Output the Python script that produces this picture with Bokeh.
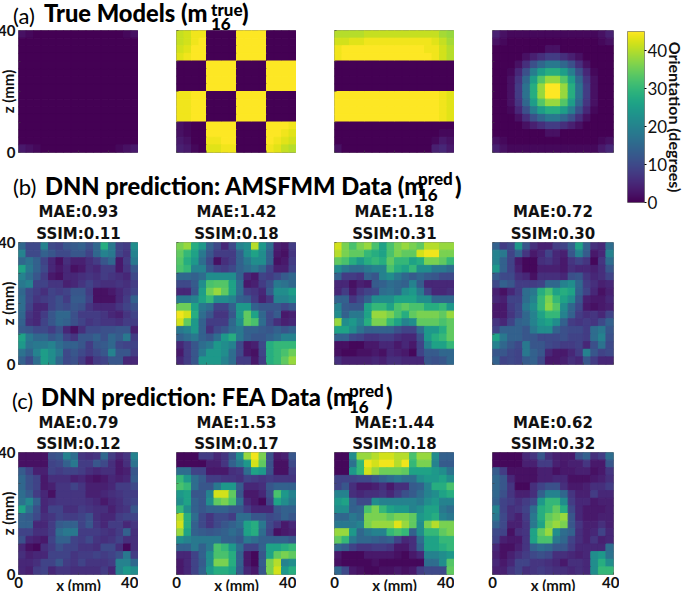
import numpy as np
from bokeh.embed import file_html
from bokeh.resources import INLINE
from bokeh.layouts import column, row
from bokeh.models import ColumnDataSource, Div, FixedTicker, LinearColorMapper, LinearAxis, Range1d, Title
from bokeh.palettes import Viridis256
from bokeh.plotting import figure

A1 = [[2,1,0,0,0,0,0,0,0,0,0,0,0,0,1,2]] + [[0]*16 for _ in range(14)] + [[3,2,1,0,0,0,0,0,0,0,0,0,0,1,2,3]]
A2 = [
[41,42,44,44,0,0,0,0,45,45,45,45,0,0,0,0],
[41,42,44,45,0,0,0,0,45,45,45,45,0,0,0,0],
[42,43,45,45,0,0,0,0,45,45,45,45,0,0,0,0],
[43,44,45,45,0,0,0,0,45,45,45,45,0,0,0,0],
[0,0,0,0,45,45,45,45,0,0,0,0,45,45,45,45],
[0,0,0,0,45,45,45,45,0,0,0,0,45,45,45,45],
[0,0,0,0,45,45,45,45,0,0,0,0,45,45,45,45],
[0,0,0,0,45,45,45,45,0,0,0,0,45,45,45,45],
[44,44,45,45,0,0,0,0,45,45,45,45,0,0,0,0],
[44,44,45,45,0,0,0,0,45,45,45,45,0,0,0,0],
[44,44,45,45,0,0,0,0,45,45,45,45,0,0,0,0],
[44,44,45,45,0,0,0,0,45,45,45,45,0,0,0,0],
[2,1,0,0,45,45,45,45,0,0,0,0,45,45,45,44],
[2,1,0,0,45,45,45,45,0,0,0,0,45,45,44,43],
[3,2,0,0,44,44,45,45,0,0,0,0,45,44,43,42],
[4,3,1,0,43,43,44,44,0,0,0,0,44,43,41,40],
]
A3 = [
[40,40,40,40,41,41,41,41,41,41,41,41,41,41,39,38],
[42,42,43,43,44,44,44,44,44,44,44,44,44,43,41,39],
[44,45,45,45,45,45,45,45,45,45,45,45,44,44,42,40],
[44,45,45,45,45,45,45,45,45,45,45,45,45,44,42,40],
[0,0,0,0,0,0,0,0,0,0,0,0,0,0,0,0],
[0,0,0,0,0,0,0,0,0,0,0,0,0,0,0,0],
[0,0,0,0,0,0,0,0,0,0,0,0,0,0,0,0],
[0,0,0,0,0,0,0,0,0,0,0,0,0,0,0,0],
[45,45,45,45,45,45,45,45,45,45,45,45,45,45,44,43],
[45,45,45,45,45,45,45,45,45,45,45,45,45,45,44,43],
[45,45,45,45,45,45,45,45,45,45,45,45,45,45,44,43],
[45,45,45,45,45,45,45,45,45,45,45,45,45,45,44,43],
[0,0,0,0,0,0,0,0,0,0,0,0,0,0,0,0],
[0,0,0,0,0,0,0,0,0,0,0,0,0,0,1,1],
[0,0,0,0,0,0,0,0,0,0,0,0,0,1,3,2],
[2,0,0,0,0,0,0,0,0,0,0,0,0,4,5,3],
]
A4 = [
[4,2,1,1,1,1,1,1,1,1,1,1,1,1,2,4],
[2,1,0,0,0,0,0,0,0,0,0,0,0,0,1,2],
[0,0,0,0,0,0,0,2,2,0,0,0,0,0,0,0],
[0,0,0,0,2,4,6,8,8,6,4,2,0,0,0,0],
[0,0,0,2,6,11,15,18,18,15,11,6,2,0,0,0],
[0,0,1,5,11,19,25,28,28,25,19,11,5,1,0,0],
[0,0,2,7,15,25,33,38,38,33,25,15,7,2,0,0],
[0,0,2,8,17,28,38,45,45,38,28,17,8,2,0,0],
[0,0,2,8,17,28,38,45,45,38,28,17,8,2,0,0],
[0,0,2,7,15,25,33,38,38,33,25,15,7,2,0,0],
[0,0,1,5,11,19,25,28,28,25,19,11,5,1,0,0],
[0,0,0,2,6,11,15,18,18,15,11,6,2,0,0,0],
[0,0,0,0,2,4,6,8,8,6,4,2,0,0,0,0],
[0,0,0,0,0,0,0,2,2,0,0,0,0,0,0,0],
[2,1,0,0,0,0,0,0,0,0,0,0,0,0,1,2],
[4,2,1,1,1,1,1,1,1,1,1,1,1,1,3,5],
]
B1 = [
[15,10,10,20,10,9,12,13,14,11,15,28,18,9,8,22],
[20,10,10,14,12,10,10,12,12,9,15,20,18,9,7,20],
[15,17,14,9,5,2,6,4,4,6,8,12,15,3,8,18],
[26,18,14,10,5,3,5,2,3,6,5,8,8,3,7,12],
[20,16,12,8,3,2,5,5,6,7,6,8,7,6,5,10],
[18,20,9,9,7,7,4,5,7,9,7,6,6,7,6,8],
[15,10,8,6,9,8,9,12,12,8,2,2,3,5,7,9],
[16,10,7,8,9,11,8,13,13,9,2,2,2,5,8,14],
[16,9,5,5,9,11,10,12,11,7,5,5,5,7,9,11],
[15,7,5,8,12,15,15,11,8,8,8,7,5,4,7,9],
[14,6,5,9,12,15,14,11,9,7,8,7,7,6,8,8],
[13,12,10,10,8,11,5,2,6,10,10,11,11,12,12,4],
[26,18,15,15,12,14,9,7,12,12,14,11,15,13,18,8],
[24,17,18,18,20,16,14,14,12,8,12,13,15,10,9,9],
[17,14,20,25,22,18,10,12,10,8,10,12,20,12,12,8],
[14,10,16,25,22,15,10,11,8,4,8,9,12,12,5,5],
]
B2 = [
[36,38,28,24,14,10,5,10,20,22,40,24,16,4,3,8],
[34,30,26,18,12,8,8,8,14,22,26,22,14,3,2,7],
[33,28,24,16,10,2,6,8,14,18,22,22,14,2,3,8],
[32,30,20,20,12,9,8,10,14,16,18,15,9,4,4,9],
[15,15,14,16,22,22,22,22,14,5,3,9,8,10,13,15],
[10,10,13,22,32,33,33,26,16,3,4,8,11,18,17,15],
[5,5,12,25,35,38,34,26,16,8,7,5,13,22,22,25],
[18,18,20,26,30,22,22,20,14,13,8,4,7,20,20,22],
[35,35,26,18,16,9,9,14,24,24,14,12,12,12,10,12],
[44,42,28,16,12,7,7,12,24,34,26,15,10,13,3,4],
[42,34,24,14,8,8,8,15,22,34,32,16,10,6,4,5],
[18,20,24,14,6,10,12,16,18,14,14,13,12,14,12,14],
[14,16,18,14,12,16,24,28,18,14,12,12,14,16,20,20],
[5,8,12,16,18,24,22,20,10,3,4,10,28,30,30,30],
[3,8,12,18,24,24,22,16,10,3,2,9,28,30,32,35],
[5,8,12,24,24,24,20,16,8,8,3,8,28,30,34,38],
]
B3 = [
[42,36,32,36,38,32,26,32,36,38,36,34,40,40,38,38],
[40,36,34,34,30,28,26,32,36,34,34,42,44,44,36,36],
[34,32,28,24,28,30,28,34,30,30,26,28,36,36,34,30],
[22,18,16,16,18,20,20,32,28,26,30,22,22,18,18,16],
[14,8,8,7,14,12,20,22,18,15,13,15,13,12,10,10],
[5,5,2,4,3,13,14,16,15,14,20,13,5,5,5,5],
[5,8,3,7,9,10,16,17,15,22,24,18,9,5,5,6],
[14,14,7,10,14,22,22,22,26,26,26,22,22,15,15,15],
[20,13,12,12,26,30,30,26,32,34,32,32,28,28,30,24],
[22,14,18,18,26,38,38,36,32,28,34,36,36,36,34,38],
[38,22,24,20,28,36,36,30,26,20,22,34,34,34,32,34],
[26,26,22,17,14,14,14,14,11,9,9,16,24,24,28,34],
[14,14,10,9,7,7,8,8,6,5,5,11,24,28,30,34],
[2,2,1,1,3,3,5,5,3,5,3,9,20,26,26,30],
[2,1,1,2,2,3,2,5,4,3,1,9,13,13,15,15],
[6,4,4,4,4,5,4,6,6,5,5,5,12,11,12,15],
]
B4 = [
[14,8,10,24,12,6,4,4,8,9,14,26,14,6,5,16],
[20,18,9,14,7,3,5,9,5,4,12,20,13,3,5,20],
[20,14,9,3,1,1,6,7,5,3,7,9,7,1,7,16],
[24,14,9,4,1,1,4,4,4,3,6,5,5,4,6,12],
[13,10,10,6,5,2,6,6,6,5,11,12,7,5,6,9],
[10,14,12,8,8,8,9,15,15,20,22,15,8,6,4,5],
[4,2,5,8,16,18,28,32,26,28,26,14,9,5,2,4],
[5,4,9,9,16,20,30,36,30,26,22,12,4,3,3,5],
[3,3,8,10,18,22,30,37,33,22,15,10,3,2,3,4],
[3,3,7,10,15,20,26,30,30,20,14,8,6,7,5,9],
[7,5,9,14,15,20,24,26,22,14,8,7,8,7,10,14],
[9,14,14,14,12,18,22,22,14,11,10,10,8,16,18,12],
[26,18,14,14,12,12,10,10,10,11,9,9,8,16,20,11],
[20,15,12,10,18,12,12,10,9,8,8,9,5,11,17,10],
[12,12,10,9,18,14,12,5,3,3,5,8,20,12,9,10],
[14,9,10,9,13,14,10,3,3,4,6,5,12,8,5,5],
]
C1 = [
[2,2,2,2,11,12,20,16,7,6,7,15,8,5,7,20],
[2,2,2,2,9,10,14,18,8,8,12,10,6,3,6,17],
[13,9,4,4,9,8,9,9,8,6,5,6,6,3,4,12],
[15,11,9,3,6,6,6,4,5,3,2,3,5,4,5,13],
[15,11,9,3,4,7,7,9,7,4,4,4,5,8,8,10],
[16,13,8,5,2,7,7,7,7,4,4,5,6,7,8,8],
[17,21,14,5,6,7,7,7,7,6,5,3,5,6,8,9],
[26,17,11,5,9,9,6,6,8,7,6,6,4,6,7,12],
[14,13,10,6,7,9,8,8,9,11,6,5,5,8,9,9],
[14,14,5,5,8,13,14,14,9,12,7,5,8,8,5,7],
[9,9,6,6,8,16,18,18,8,8,8,7,6,8,14,6],
[11,5,4,3,9,14,14,9,8,10,7,6,7,9,6,6],
[5,2,1,6,8,11,9,9,7,7,6,10,10,6,1,6],
[6,4,5,5,9,9,9,7,8,8,9,8,9,11,18,8],
[5,5,6,9,9,12,8,7,9,7,7,7,8,20,20,15],
[5,4,8,9,5,7,7,6,6,6,6,8,5,20,24,22],
]
C2 = [
[1,1,1,8,8,5,7,12,22,38,44,36,11,3,4,12],
[1,1,1,1,4,4,7,14,18,24,42,34,11,2,2,10],
[16,16,9,9,3,3,3,6,7,16,26,24,11,2,2,8],
[30,24,16,13,8,8,7,7,6,9,8,7,8,7,7,7],
[32,30,16,12,12,18,24,24,13,5,5,6,12,14,14,14],
[24,26,12,12,20,42,42,34,12,3,3,5,11,32,24,20],
[22,26,14,12,22,34,36,32,16,5,3,1,9,26,22,18],
[30,22,14,12,14,14,14,12,12,8,5,5,5,12,14,14],
[40,28,16,10,7,10,10,8,16,16,12,12,10,11,14,12],
[42,28,14,10,7,10,12,14,16,26,28,18,10,7,3,5],
[38,26,14,13,12,13,14,16,14,26,28,16,9,2,3,4],
[22,20,18,18,18,18,14,14,12,18,16,14,14,14,14,12],
[14,14,18,14,18,32,30,24,16,9,9,14,26,26,28,30],
[5,5,9,14,22,32,32,28,14,3,1,12,26,34,36,34],
[3,5,9,13,22,36,36,28,14,3,1,13,36,40,20,22],
[3,5,9,14,24,28,28,26,13,5,3,12,36,42,24,28],
]
C3 = [
[1,1,22,38,38,40,42,42,40,40,32,38,38,22,14,14],
[1,1,17,30,44,42,44,44,40,44,30,36,36,20,13,13],
[1,1,24,30,42,38,35,35,35,34,26,26,26,24,22,17],
[9,9,9,10,10,12,14,16,18,16,16,22,24,24,26,22],
[9,12,6,3,3,4,6,3,6,6,13,14,20,28,28,32],
[20,20,6,5,6,6,7,5,8,11,13,16,20,22,26,28],
[24,26,14,10,10,22,20,20,20,20,20,18,22,24,20,20],
[22,22,14,15,32,36,30,26,24,24,20,22,26,26,18,16],
[15,15,18,16,36,36,36,34,36,36,34,24,26,28,20,18],
[18,18,18,20,36,38,38,38,43,38,34,22,36,40,36,36],
[38,38,24,15,18,20,20,30,32,30,14,22,30,30,34,36],
[34,30,18,15,15,14,13,14,9,5,6,16,26,26,30,30],
[15,13,9,7,7,8,8,7,3,3,6,14,26,26,28,30],
[3,1,1,1,3,3,3,3,2,1,3,5,20,20,22,24],
[2,1,1,1,1,2,1,1,1,1,1,1,16,16,22,33],
[15,10,3,2,1,1,2,2,3,2,3,8,10,10,10,34],
]
C4 = [
[1,1,1,1,5,7,12,6,4,3,3,11,14,6,8,16],
[1,1,1,1,4,4,8,8,4,3,4,4,7,3,3,12],
[13,8,2,2,2,2,4,4,2,3,3,4,4,2,3,7],
[15,12,5,2,2,2,4,4,5,5,2,2,2,3,4,6],
[15,12,7,1,1,6,9,11,11,6,3,3,4,6,6,8],
[15,11,7,4,4,6,14,20,20,15,7,4,4,8,5,5],
[14,9,8,6,8,10,24,30,30,22,8,5,5,3,4,4],
[20,9,6,7,9,16,28,30,34,28,10,5,3,3,3,4],
[18,10,6,4,8,18,28,34,36,38,12,5,3,3,4,4],
[14,10,4,4,7,18,26,36,38,36,12,7,4,4,6,4],
[10,9,2,6,7,26,34,38,22,16,14,6,4,5,9,5],
[9,4,3,3,7,26,32,32,18,15,9,6,4,7,4,5],
[5,2,2,4,7,14,16,15,12,12,8,5,5,5,5,16],
[4,2,4,6,8,10,11,10,6,6,5,4,5,22,24,17],
[5,3,5,9,9,7,7,6,5,3,6,6,5,22,28,22],
[4,4,7,9,6,7,8,7,6,6,5,6,5,22,30,30],
]
MAE_B = ["MAE:0.93", "MAE:1.42", "MAE:1.18", "MAE:0.72"]
SSIM_B = ["SSIM:0.11", "SSIM:0.18", "SSIM:0.31", "SSIM:0.30"]
MAE_C = ["MAE:0.79", "MAE:1.53", "MAE:1.44", "MAE:0.62"]
SSIM_C = ["SSIM:0.12", "SSIM:0.17", "SSIM:0.18", "SSIM:0.32"]
TICKS = [0, 10, 20, 30, 40]
CB_TICKS = [0, 10, 20, 30, 40]

mapper = LinearColorMapper(palette=Viridis256, low=0, high=45)
HEAD = "Lato"
OUTLINE = "#7f7f7f"
ROOT_LEFT = -4


def panel(data, col, top, bottom, ylab=False, xlab=False, heads=None, gaps=(1, 2)):
    left = 19 if col == 0 else 38
    right = 6 if col == 3 else 0
    p = figure(frame_width=[120, 120, 120, 121][col], frame_height=122,
               x_range=Range1d(0, 40), y_range=Range1d(0, 40),
               min_border_left=left, min_border_right=right, min_border_top=top, min_border_bottom=bottom,
               toolbar_location=None, output_backend="svg", x_axis_location=None, y_axis_location=None)
    vals = np.array(data, dtype=float)
    n = vals.shape[0]
    step = 40 / n
    rr, cc = np.meshgrid(np.arange(n), np.arange(n), indexing="ij")
    src = ColumnDataSource(dict(
        left=(cc.ravel()) * step, right=(cc.ravel() + 1) * step,
        top=(n - rr.ravel()) * step, bottom=(n - rr.ravel() - 1) * step, v=vals.ravel()))
    cmap = {"field": "v", "transform": mapper}
    p.quad(left="left", right="right", top="top", bottom="bottom", source=src, fill_color=cmap, line_color=cmap, line_width=1)
    p.grid.visible = False
    p.outline_line_color = OUTLINE
    p.outline_line_width = 1
    yax = LinearAxis(ticker=FixedTicker(ticks=TICKS))
    xax = LinearAxis(ticker=FixedTicker(ticks=TICKS))
    for ax in (xax, yax):
        ax.axis_line_color = None
        ax.major_tick_in = 2
        ax.major_tick_out = 0
        ax.major_tick_line_color = "#444444"
        ax.major_tick_line_alpha = 0.6
        ax.minor_tick_line_color = None
        ax.major_label_text_font = HEAD
        ax.major_label_text_font_style = "bold"
        ax.major_label_text_font_size = "15px"
        ax.major_label_text_color = "#111111"
        ax.axis_label_text_font = HEAD
        ax.axis_label_text_font_style = "bold"
        ax.axis_label_text_font_size = "15px"
        ax.axis_label_text_color = "#111111"
    yax.major_label_standoff = 3
    xax.major_label_standoff = 2
    yax.major_label_overrides = {t: (str(t) if ylab and t in (0, 40) else "") for t in TICKS}
    xax.major_label_overrides = {t: (str(t) if xlab and t in (0, 40) else "") for t in TICKS}
    if ylab:
        yax.axis_label = "z (mm)"
        yax.axis_label_standoff = -22
    if xlab:
        xax.axis_label = "x (mm)"
        xax.axis_label_standoff = -15
    p.add_layout(yax, "left")
    p.add_layout(xax, "below")
    if heads:
        for t, standoff in zip(heads, gaps):
            p.add_layout(Title(text=t, align="center", standoff=standoff, text_font="DejaVu Sans",
                               text_font_style="bold", text_font_size="15px", text_color="#111111"), "above")
    return p


row_a = row(panel(A1, 0, 30, 44, ylab=True), panel(A2, 1, 30, 44), panel(A3, 2, 30, 44), panel(A4, 3, 30, 44))
row_b = row(*[panel(d, i, 46, 46, ylab=i == 0, heads=(SSIM_B[i], MAE_B[i]), gaps=(0, 3))
              for i, d in enumerate([B1, B2, B3, B4])])
row_c = row(*[panel(d, i, 41, 18, ylab=i == 0, xlab=True, heads=(SSIM_C[i], MAE_C[i]), gaps=(0, 2))
              for i, d in enumerate([C1, C2, C3, C4])])
panels = column(row_a, row_b, row_c)

# colour bar drawn from the same mapper
cb = figure(frame_width=17, frame_height=171, x_range=Range1d(0, 1), y_range=Range1d(0, 45),
            min_border_left=8, min_border_right=30, min_border_top=31, min_border_bottom=10,
            toolbar_location=None, output_backend="svg", x_axis_location=None, y_axis_location="right")
cb.image(image=[np.linspace(0, 45, 256).reshape(-1, 1)], x=0, y=0, dw=1, dh=45, color_mapper=mapper)
cb.grid.visible = False
cb.outline_line_color = OUTLINE
ya = cb.yaxis[0]
ya.ticker = FixedTicker(ticks=CB_TICKS)
ya.axis_line_color = None
ya.minor_tick_line_color = None
ya.major_tick_out = 2
ya.major_tick_in = 0
ya.major_label_standoff = 1
ya.major_label_text_font = HEAD
ya.major_label_text_font_size = "17px"
ya.major_label_text_color = "#111111"
ya.axis_label = "Orientation (degrees)"
ya.axis_label_standoff = -4
ya.axis_label_text_font = HEAD
ya.axis_label_text_font_style = "bold"
ya.axis_label_text_font_size = "16px"
ya.axis_label_text_color = "#111111"


def span(text, left, cy, size, weight=900):
    return (f'<span style="position:absolute;left:{left - ROOT_LEFT}px;top:{cy - size / 2}px;line-height:{size}px;'
            f'font-family:Lato;font-size:{size}px;font-weight:{weight};white-space:nowrap;color:#000">{text}</span>')


MAIN = 23.7
SUB = 17
heading = "".join([
    span("(a)", 13, 16, 22, 400), span("True Models (m", 44, 14, MAIN), span("true", 211, 9, SUB), span("16", 211, 23, SUB), span(")", 242, 14, MAIN),
    span("(b)", 13, 187, 22, 400), span("DNN prediction: AMSFMM Data (m", 45, 187, MAIN), span("pred", 418, 178, SUB), span("16", 418, 194, SUB), span(")", 455, 187, MAIN),
    span("(c)", 12, 401, 22, 400), span("DNN prediction: FEA Data (m", 41, 398, MAIN), span("pred", 349, 390, SUB), span("16", 349, 406, SUB), span(")", 386, 398, MAIN),
])
head = Div(text=heading, width=0, height=0, margin=0, styles={"overflow": "visible", "z-index": "5"})

root = column(head, row(panels, cb), margin=(0, 0, -8, ROOT_LEFT))
open("out.html", "w").write(file_html(root, INLINE))
